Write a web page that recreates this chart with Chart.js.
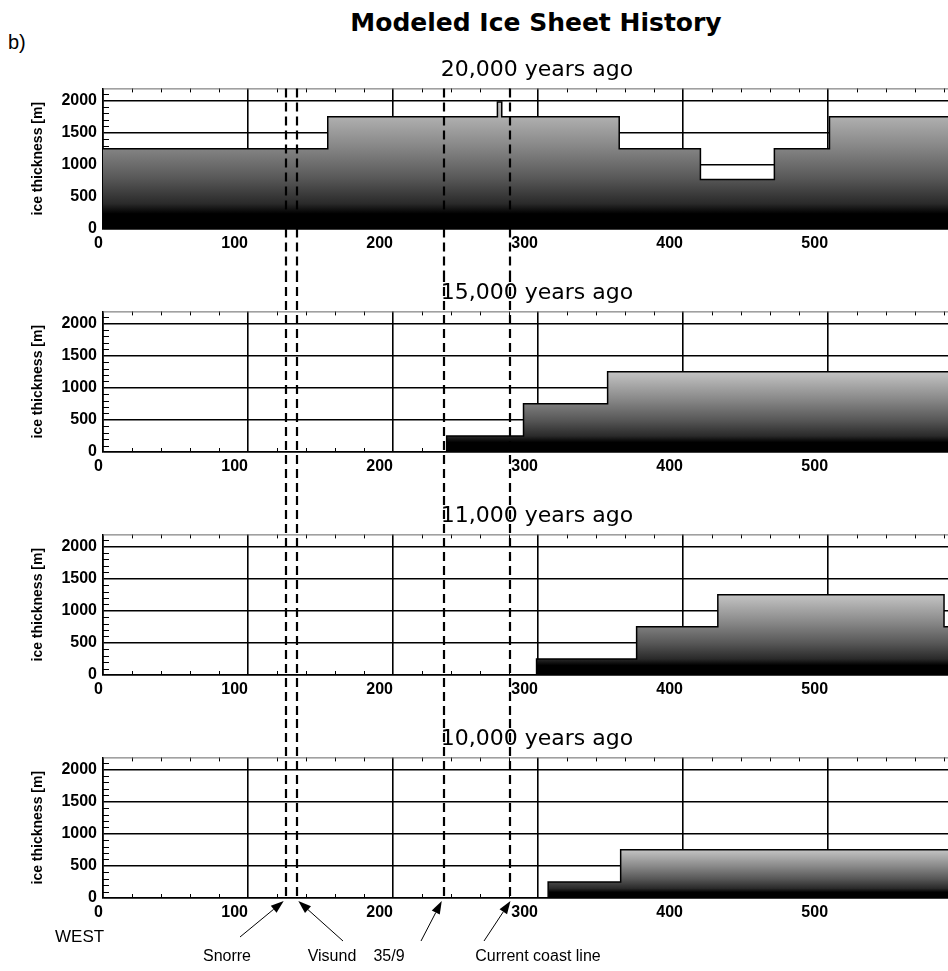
<!DOCTYPE html>
<html>
<head>
<meta charset="utf-8">
<title>Modeled Ice Sheet History</title>
<script src="https://cdn.jsdelivr.net/npm/chart.js@4.4.0/dist/chart.umd.min.js"></script>
<style>
  body { margin: 0; background: #fff; }
  #figure { position: relative; width: 948px; height: 971px; overflow: hidden; font-family: 'Liberation Sans', Arial, sans-serif; color: #000; }
  #figure canvas { position: absolute; left: 0; }
  .label { position: absolute; white-space: nowrap; }
  #panelTag { left: 8px; top: 30px; font-size: 20px; line-height: 24px; }
  #mainTitle { left: 336px; width: 400px; top: 8px; line-height: 30px; text-align: center; font: bold 25px 'DejaVu Sans', sans-serif; }
</style>
</head>
<body>
<div id="figure">
  <div id="panelTag" class="label">b)</div>
  <div id="mainTitle" class="label">Modeled Ice Sheet History</div>
  <canvas id="panel20k" width="971" height="223" style="top:50px"></canvas>
  <canvas id="panel15k" width="971" height="223" style="top:273px"></canvas>
  <canvas id="panel11k" width="971" height="223" style="top:496px"></canvas>
  <canvas id="panel10k" width="971" height="252" style="top:719px"></canvas>
</div>
<script>
// axes: distance along profile (km) and ice thickness (m)
const xMax = 598.6;
const yMax = 2190;
const xTicks = [0, 100, 200, 300, 400, 500];
const yTicks = [0, 500, 1000, 1500, 2000];
const xMinorStep = 20;
const yMinorStep = 100;

// well / coast positions marked with dashed lines
const siteKm = [126, 134, 235, 281];
const siteNames = ['Snorre', 'Visund', '35/9', 'Current coast line'];

// ice sheet steps: block edges (km) and thickness of each block (m)
const edges20k = [0, 155, 272, 275, 356, 412, 463, 501, 583];
const ice20k = [1250, 1750, 1980, 1750, 1250, 770, 1250, 1750];
const edges15k = [237, 290, 348, 583];
const ice15k = [250, 750, 1250];
const edges11k = [299, 368, 424, 580, 583];
const ice11k = [250, 750, 1250, 750];
const edges10k = [307, 357, 583];
const ice10k = [250, 750];

const fontFamily = "'Liberation Sans', Arial, sans-serif";
Chart.defaults.font.family = fontFamily;
Chart.defaults.color = '#000';

function stepPoints(edges, heights) {
    const pts = [];
    if (edges[0] > 0) pts.push({ x: edges[0], y: 0 });
    heights.forEach((h, i) => {
        pts.push({ x: edges[i], y: h });
        pts.push({ x: edges[i + 1], y: h });
    });
    return pts;
}

// black at the base, light grey at the highest block of the panel
function iceFill(peak) {
    return function(context) {
        const chart = context.chart;
        if (!chart.chartArea) return '#888';
        const y = chart.scales.y;
        const g = chart.ctx.createLinearGradient(0, y.getPixelForValue(0), 0, y.getPixelForValue(peak));
        g.addColorStop(0, '#000');
        g.addColorStop(0.12, '#000');
        g.addColorStop(0.2, '#2a2a2a');
        g.addColorStop(0.4, '#585858');
        g.addColorStop(0.65, '#878787');
        g.addColorStop(1, '#c4c4c4');
        return g;
    };
}

// minor ticks and the top frame line
const frameTicks = {
    id: 'frameTicks',
    beforeDatasetsDraw(chart) {
        const { ctx, chartArea: a, scales: { x, y } } = chart;
        ctx.save();
        ctx.strokeStyle = '#000';
        ctx.lineWidth = 1;
        ctx.beginPath();
        for (let v = yMinorStep; v < yMax; v += yMinorStep) {
            if (v % 500 === 0) continue;
            const py = Math.round(y.getPixelForValue(v)) + 0.5;
            ctx.moveTo(a.left, py);
            ctx.lineTo(a.left + 6, py);
        }
        for (let v = xMinorStep; v < xMax; v += xMinorStep) {
            if (v % 100 === 0) continue;
            const px = Math.round(x.getPixelForValue(v)) + 0.5;
            ctx.moveTo(px, a.bottom);
            ctx.lineTo(px, a.bottom - 4);
            ctx.moveTo(px, a.top);
            ctx.lineTo(px, a.top + 4);
        }
        ctx.stroke();
        ctx.strokeStyle = '#666';
        ctx.beginPath();
        ctx.moveTo(a.left, a.top + 0.5);
        ctx.lineTo(a.right, a.top + 0.5);
        ctx.stroke();
        ctx.restore();
    }
};

// dashed vertical lines running through all panels
const siteLines = {
    id: 'siteLines',
    afterDraw(chart, args, opts) {
        const { ctx, chartArea: a, scales: { x } } = chart;
        const top = opts.fromTop ? 0 : a.top;
        const bottom = opts.toAxis ? a.bottom : chart.height;
        ctx.save();
        ctx.strokeStyle = '#000';
        ctx.lineWidth = 2.2;
        ctx.setLineDash([9, 5]);
        siteKm.forEach(km => {
            const px = Math.round(x.getPixelForValue(km));
            ctx.beginPath();
            ctx.moveTo(px, top);
            ctx.lineTo(px, bottom);
            ctx.stroke();
        });
        ctx.restore();
    }
};

function arrow(ctx, x0, y0, x1, y1) {
    const ang = Math.atan2(y1 - y0, x1 - x0);
    const len = 13, half = 4.5;
    const bx = x1 - len * Math.cos(ang), by = y1 - len * Math.sin(ang);
    ctx.beginPath();
    ctx.moveTo(x0, y0);
    ctx.lineTo(bx, by);
    ctx.stroke();
    ctx.beginPath();
    ctx.moveTo(x1, y1);
    ctx.lineTo(bx + half * Math.sin(ang), by - half * Math.cos(ang));
    ctx.lineTo(bx - half * Math.sin(ang), by + half * Math.cos(ang));
    ctx.closePath();
    ctx.fill();
}

// labels under the last panel, arrows point at the dashed lines
const siteLabels = {
    id: 'siteLabels',
    afterDraw(chart) {
        const { ctx, chartArea: a, scales: { x } } = chart;
        const labelX = [227, 332, 389, 538];
        const tails = [[240, 218], [343, 222], [421, 222], [484, 222]];
        const tipShift = [-2, 1, -2, 0];
        ctx.save();
        ctx.fillStyle = '#000';
        ctx.strokeStyle = '#000';
        ctx.lineWidth = 1;
        ctx.font = '16px ' + fontFamily;
        ctx.textAlign = 'center';
        ctx.textBaseline = 'middle';
        siteNames.forEach((name, i) => {
            ctx.fillText(name, labelX[i], 238);
            arrow(ctx, tails[i][0], tails[i][1], x.getPixelForValue(siteKm[i]) + tipShift[i], a.bottom + 3);
        });
        ctx.font = '17px ' + fontFamily;
        ctx.textAlign = 'left';
        ctx.fillText('WEST', 55, 218);
        ctx.restore();
    }
};

function makePanel(canvasId, title, edges, heights, first, last) {
    const ctx = document.getElementById(canvasId).getContext('2d');
    return new Chart(ctx, {
        type: 'line',
        data: {
            datasets: [{
                data: stepPoints(edges, heights),
                borderColor: '#000',
                borderWidth: 1.5,
                backgroundColor: iceFill(Math.max(...heights)),
                fill: 'origin',
                pointRadius: 0,
                tension: 0
            }]
        },
        options: {
            responsive: false,
            animation: false,
            devicePixelRatio: 1,
            layout: {
                padding: { left: 25.6, right: 0, top: 0, bottom: last ? 29 : 0 }
            },
            plugins: {
                legend: { display: false },
                tooltip: { enabled: false },
                title: {
                    display: true,
                    text: title,
                    fullSize: false,
                    color: '#000',
                    font: { family: "'DejaVu Sans', sans-serif", size: 22, weight: 'normal', lineHeight: 1.2 },
                    padding: { top: 7, bottom: 5 }
                },
                siteLines: { fromTop: !first, toAxis: last }
            },
            scales: {
                x: {
                    type: 'linear',
                    min: 0,
                    max: xMax,
                    afterBuildTicks: scale => { scale.ticks = xTicks.map(v => ({ value: v })); },
                    afterFit: scale => { scale.height = 44; },
                    grid: { color: '#000', lineWidth: 1.6, drawTicks: false },
                    border: { color: '#000', width: 1.6 },
                    ticks: {
                        align: 'end',
                        padding: 5,
                        color: '#000',
                        font: { size: 16, weight: 'bold' },
                        callback: v => String(v)
                    }
                },
                y: {
                    min: 0,
                    max: yMax,
                    afterBuildTicks: scale => { scale.ticks = yTicks.map(v => ({ value: v })); },
                    afterFit: scale => { scale.width = 77.4; },
                    grid: { color: '#000', lineWidth: 1.6, drawTicks: false },
                    border: { color: '#000', width: 1.6 },
                    ticks: {
                        padding: 6,
                        color: '#000',
                        font: { size: 16, weight: 'bold' },
                        callback: v => String(v)
                    },
                    title: {
                        display: true,
                        text: 'ice thickness [m]',
                        color: '#000',
                        font: { size: 14, weight: 'bold' },
                        padding: { top: 4, bottom: 4 }
                    }
                }
            }
        },
        plugins: last ? [frameTicks, siteLines, siteLabels] : [frameTicks, siteLines]
    });
}

makePanel('panel20k', '20,000 years ago', edges20k, ice20k, true, false);
makePanel('panel15k', '15,000 years ago', edges15k, ice15k, false, false);
makePanel('panel11k', '11,000 years ago', edges11k, ice11k, false, false);
makePanel('panel10k', '10,000 years ago', edges10k, ice10k, false, true);
</script>
</body>
</html>
